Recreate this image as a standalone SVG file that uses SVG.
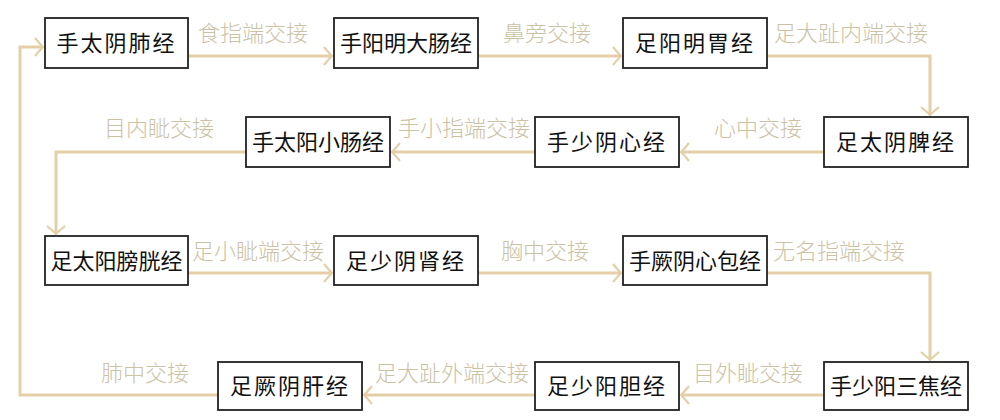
<svg xmlns="http://www.w3.org/2000/svg" width="1000" height="420" viewBox="0 0 1000 420">
<style>
.box{fill:#fff;stroke:#222;stroke-width:1.8}
.nt{font-family:"Noto Sans CJK SC","Noto Sans",sans-serif;font-size:22px;fill:#111;text-anchor:middle}
.lb{font-family:"Noto Sans CJK SC","Noto Sans",serif;font-size:22px;fill:#cbc2a6;text-anchor:middle;font-weight:300}
.ln{fill:none;stroke:#e4cfa8;stroke-width:3}
.ah{fill:none;stroke:#e4cfa8;stroke-width:2.2}
</style>
<defs>
<marker id="arr" viewBox="-10 -10 12 20" refX="0" refY="0" markerWidth="12" markerHeight="20" markerUnits="userSpaceOnUse" orient="auto">
<path d="M-8,-9 Q-3,-3 0,0 Q-3,3 -8,9" fill="none" stroke="#e4cfa8" stroke-width="2.2"/>
</marker>
</defs>
<rect width="1000" height="420" fill="#fff"/>
<g id="connectors">
<path class="ln" d="M188,56 H332" marker-end="url(#arr)"/>
<path class="ln" d="M478,56 H621" marker-end="url(#arr)"/>
<path class="ln" d="M767,56 H930 V115" marker-end="url(#arr)"/>
<path class="ln" d="M824,152 H681" marker-end="url(#arr)"/>
<path class="ln" d="M535,152 H392" marker-end="url(#arr)"/>
<path class="ln" d="M246,152 H56 V234" marker-end="url(#arr)"/>
<path class="ln" d="M188,273 H332" marker-end="url(#arr)"/>
<path class="ln" d="M478,273 H621" marker-end="url(#arr)"/>
<path class="ln" d="M767,273 H930 V360" marker-end="url(#arr)"/>
<path class="ln" d="M824,395 H681" marker-end="url(#arr)"/>
<path class="ln" d="M535,395 H364" marker-end="url(#arr)"/>
<path class="ln" d="M218,395 H20 V47 H43" marker-end="url(#arr)"/>
<text class="lb" x="253" y="41">食指端交接</text>
<text class="lb" x="547" y="41">鼻旁交接</text>
<text class="lb" x="851" y="41">足大趾内端交接</text>
<text class="lb" x="159" y="136">目内眦交接</text>
<text class="lb" x="464" y="136">手小指端交接</text>
<text class="lb" x="758" y="136">心中交接</text>
<text class="lb" x="258" y="259">足小眦端交接</text>
<text class="lb" x="545" y="259">胸中交接</text>
<text class="lb" x="839" y="259">无名指端交接</text>
<text class="lb" x="145" y="381">肺中交接</text>
<text class="lb" x="452" y="381">足大趾外端交接</text>
<text class="lb" x="748" y="381">目外眦交接</text>
</g>
<g id="n1"><rect class="box" x="45" y="18" width="143" height="50"/><text class="nt" x="116.5" y="51" letter-spacing="2">手太阴肺经</text></g>
<g id="n2"><rect class="box" x="334" y="18" width="144" height="50"/><text class="nt" x="406" y="51">手阳明大肠经</text></g>
<g id="n3"><rect class="box" x="623" y="18" width="144" height="50"/><text class="nt" x="695" y="51" letter-spacing="2">足阳明胃经</text></g>
<g id="n4"><rect class="box" x="824" y="117" width="144" height="50"/><text class="nt" x="896" y="150" letter-spacing="2">足太阴脾经</text></g>
<g id="n5"><rect class="box" x="535" y="117" width="144" height="50"/><text class="nt" x="607" y="150" letter-spacing="2">手少阴心经</text></g>
<g id="n6"><rect class="box" x="246" y="117" width="144" height="50"/><text class="nt" x="318" y="150">手太阳小肠经</text></g>
<g id="n7"><rect class="box" x="45" y="236" width="143" height="49"/><text class="nt" x="116.5" y="269">足太阳膀胱经</text></g>
<g id="n8"><rect class="box" x="334" y="236" width="144" height="49"/><text class="nt" x="406" y="269" letter-spacing="2">足少阴肾经</text></g>
<g id="n9"><rect class="box" x="623" y="236" width="144" height="49"/><text class="nt" x="695" y="269">手厥阴心包经</text></g>
<g id="n10"><rect class="box" x="824" y="362" width="144" height="48"/><text class="nt" x="896" y="394">手少阳三焦经</text></g>
<g id="n11"><rect class="box" x="535" y="362" width="144" height="48"/><text class="nt" x="607" y="394" letter-spacing="2">足少阳胆经</text></g>
<g id="n12"><rect class="box" x="218" y="362" width="144" height="48"/><text class="nt" x="290" y="394" letter-spacing="2">足厥阴肝经</text></g>
</svg>
